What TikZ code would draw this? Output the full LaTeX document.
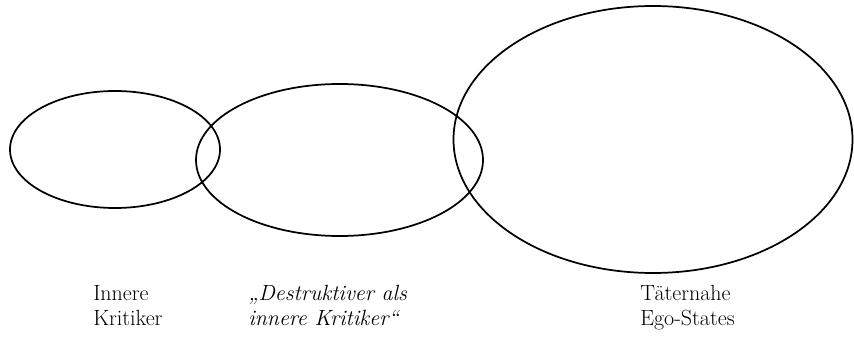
\documentclass[tikz,border=0pt]{standalone}
\usepackage{fontspec}
\begin{document}
\begin{tikzpicture}[x=0.75pt,y=-0.75pt,
  ell/.style={draw=black,line width=1.3pt},
  lbl/.style={anchor=north west,inner sep=0pt,align=left,font=\fontsize{16.5}{18.8}\selectfont}]
\useasboundingbox (0,0) rectangle (854,363);
\draw[ell] (115,149.5) ellipse [x radius=105, y radius=58.5];
\draw[ell] (339.5,160) ellipse [x radius=143.5, y radius=76];
\draw[ell] (653,139.5) ellipse [x radius=199.5, y radius=133.5];
\node[lbl] (t1) at (93,285) {Innere\\Kritiker};
\node[lbl,font=\fontsize{16.5}{18.8}\selectfont\itshape] (t2) at (248,285) {„Destruktiver als\\innere Kritiker“};
\node[lbl] (t3) at (640,285) {Täternahe\\Ego-States};
\end{tikzpicture}
\end{document}
